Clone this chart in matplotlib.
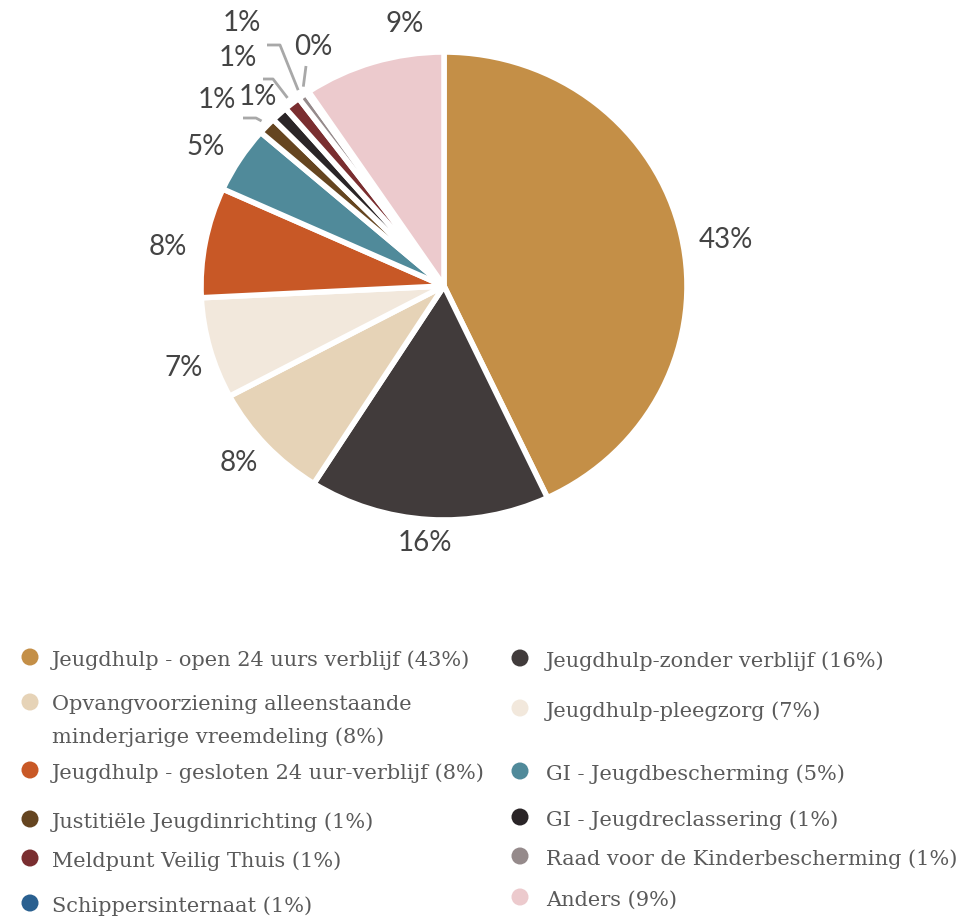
import numpy as np
import matplotlib.pyplot as plt

# slice data, clockwise from the top
labels = [
    "Jeugdhulp - open 24 uurs verblijf",
    "Jeugdhulp-zonder verblijf",
    "Opvangvoorziening alleenstaande\nminderjarige vreemdeling",
    "Jeugdhulp-pleegzorg",
    "Jeugdhulp - gesloten 24 uur-verblijf",
    "GI - Jeugdbescherming",
    "Justitiële Jeugdinrichting",
    "GI - Jeugdreclassering",
    "Meldpunt Veilig Thuis",
    "Raad voor de Kinderbescherming",
    "Schippersinternaat",
    "Anders",
]
values = [43.0, 16.0, 8.2, 7.0, 7.6, 4.6, 1.2, 1.1, 1.1, 0.6, 0.2, 9.4]
legend_pct = [43, 16, 8, 7, 8, 5, 1, 1, 1, 1, 1, 9]
colors = ["#C48F47", "#413B3B", "#E6D3B7", "#F2E8DC", "#C85826", "#508A9A",
          "#654520", "#2A2527", "#7A2E30", "#958A8B", "#2A6090", "#ECCACD"]

W, H = 958, 918
fig = plt.figure(figsize=(W / 100, H / 100), dpi=100)

# pie axes: centre at (444, 286) px, radius ~243 x 234 px
cx, cy, Rx, Ry = 444, 286, 243, 234
ax = fig.add_axes([(cx - 1.25 * Rx) / W, (H - cy - 1.25 * Ry) / H,
                   2.5 * Rx / W, 2.5 * Ry / H])
wedges, _ = ax.pie(values, colors=colors, startangle=90, counterclock=False,
                   radius=1.0, wedgeprops=dict(edgecolor="white", linewidth=4,
                                               joinstyle="round"))
ax.set_xlim(-1.25, 1.25)
ax.set_ylim(-1.25, 1.25)
ax.set_aspect("auto")
ax.axis("off")

def px2d(px, py):
    return (px - cx) / Rx, (cy - py) / Ry

lab_font = dict(family="Lato", fontsize=20, color="#444444", ha="center", va="center")

# label positions in px (layout), None = no leader line
label_pos = {
    0: ((726, 240), None),
    1: ((425, 543), None),
    2: ((239, 463), None),
    3: ((184, 368), None),
    4: ((168, 247), None),
    5: ((206, 147), None),
    6: ((217, 100), [(243, 118), (256, 118)]),
    7: ((258, 97), None),
    8: ((238, 58), [(263, 79), (273, 79)]),
    9: ((242, 23), [(267, 45), (280, 45)]),
    10: ((313, 47), [(306, 66)]),
    11: ((405, 24), None),
}
for i, (tp, leader) in label_pos.items():
    ax.text(*px2d(*tp), f"{round(values[i])}%", **lab_font)
    if leader:
        w = wedges[i]
        ang = np.deg2rad((w.theta1 + w.theta2) / 2)
        pts = [px2d(*p) for p in leader] + [(1.03 * np.cos(ang), 1.03 * np.sin(ang))]
        ax.plot([p[0] for p in pts], [p[1] for p in pts], color="#A8A8A8", lw=2,
                solid_capstyle="butt")

# legend drawn in pixel coordinates
lg = fig.add_axes([0, 0, 1, 1])
lg.set_xlim(0, W)
lg.set_ylim(H, 0)
lg.axis("off")
lg.patch.set_alpha(0)

left_rows = [(0, 660), (2, 705), (4, 773), (6, 822), (8, 861), (10, 906)]
right_rows = [(1, 661), (3, 711), (5, 774), (7, 820), (9, 859), (11, 900)]
for rows, mx, tx in ((left_rows, 30, 52), (right_rows, 520, 546)):
    for i, y in rows:
        lg.scatter([mx], [y - 3], s=150, color=colors[i], edgecolors="none")
        lines = f"{labels[i]} ({legend_pct[i]}%)".split("\n")
        for k, line in enumerate(lines):
            lg.text(tx, y + 32 * k, line, family="DejaVu Serif", fontsize=15.0,
                    color="#5A5A5A", ha="left", va="center")

fig.savefig("out.png", dpi=100, facecolor="white")
